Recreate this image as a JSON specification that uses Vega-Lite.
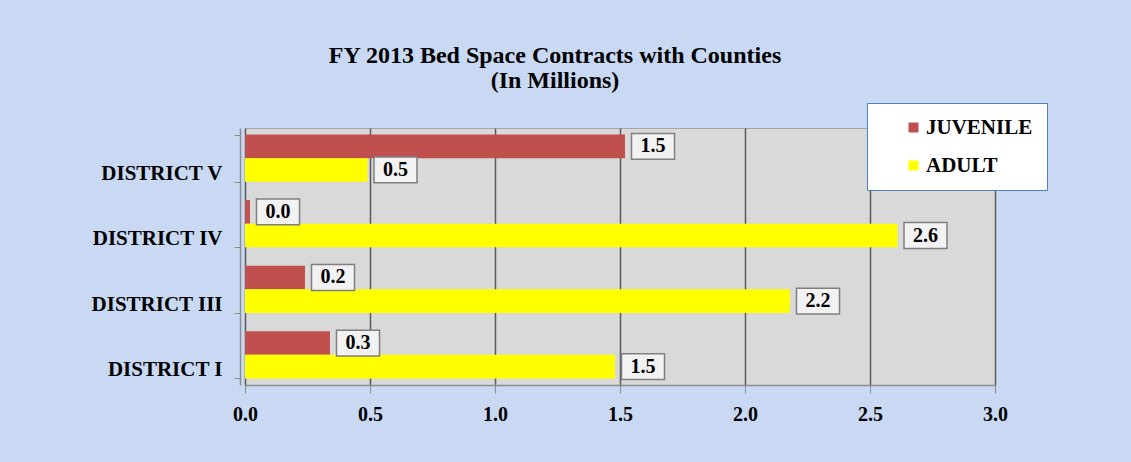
{
  "$schema": "https://vega.github.io/schema/vega-lite/v6.json",
  "width": 750,
  "height": 257,
  "autosize": {"type": "none"},
  "padding": {"left": 245, "top": 128, "right": 136, "bottom": 77},
  "background": "#c9d9f4",
  "title": {
    "text": ["FY 2013 Bed Space Contracts with Counties", "(In Millions)"],
    "anchor": "middle",
    "frame": "group",
    "dx": -65,
    "offset": 10,
    "font": "Liberation Serif",
    "fontSize": 24,
    "fontWeight": "bold",
    "color": "#000000",
    "lineHeight": 25
  },
  "data": {
    "values": [
      {"district": "DISTRICT V", "series": "JUVENILE", "value": 1.52},
      {"district": "DISTRICT V", "series": "ADULT", "value": 0.49},
      {"district": "DISTRICT IV", "series": "JUVENILE", "value": 0.02},
      {"district": "DISTRICT IV", "series": "ADULT", "value": 2.61},
      {"district": "DISTRICT III", "series": "JUVENILE", "value": 0.24},
      {"district": "DISTRICT III", "series": "ADULT", "value": 2.18},
      {"district": "DISTRICT I", "series": "JUVENILE", "value": 0.34},
      {"district": "DISTRICT I", "series": "ADULT", "value": 1.48}
    ]
  },
  "encoding": {
    "y": {
      "field": "district",
      "type": "nominal",
      "sort": ["DISTRICT V", "DISTRICT IV", "DISTRICT III", "DISTRICT I"],
      "scale": {"paddingInner": 0.28, "paddingOuter": 0.1},
      "axis": {
        "title": null,
        "domainColor": "#8c8c8c",
        "domainWidth": 1.5,
        "tickColor": "#8c8c8c",
        "tickBand": "extent",
        "tickSize": 6,
        "offset": 5,
        "labelFont": "Liberation Serif",
        "labelFontSize": 21,
        "labelFontWeight": "bold",
        "labelColor": "#000000",
        "labelPadding": 12,
        "labelOffset": 15,
        "labelLimit": 300
      }
    },
    "yOffset": {
      "field": "series",
      "type": "nominal",
      "sort": ["JUVENILE", "ADULT"],
      "scale": {"paddingInner": 0, "paddingOuter": 0}
    },
    "x": {
      "field": "value",
      "type": "quantitative",
      "scale": {"domain": [0, 3], "nice": false, "zero": true},
      "axis": {
        "title": null,
        "values": [0, 0.5, 1, 1.5, 2, 2.5, 3],
        "format": ".1f",
        "grid": true,
        "gridColor": "#5a5a5a",
        "gridWidth": 1.5,
        "domainColor": "#8c8c8c",
        "domainWidth": 1.5,
        "tickColor": "#8c8c8c",
        "tickSize": 8,
        "labelFlush": false,
        "labelFont": "Liberation Serif",
        "labelFontSize": 20,
        "labelFontWeight": "bold",
        "labelColor": "#000000",
        "labelPadding": 11
      }
    }
  },
  "layer": [
    {
      "mark": {"type": "bar", "stroke": null},
      "encoding": {
        "color": {
          "field": "series",
          "type": "nominal",
          "scale": {"domain": ["JUVENILE", "ADULT"], "range": ["#c0504d", "#ffff00"]},
          "legend": {
            "title": null,
            "orient": "none",
            "legendX": 622,
            "legendY": -25,
            "fillColor": "#ffffff",
            "strokeColor": "#4f81bd",
            "padding": 14,
            "rowPadding": 16,
            "symbolOffset": 22,
            "symbolType": "square",
            "symbolSize": 100,
            "symbolStrokeWidth": 0,
            "symbolOpacity": 1,
            "labelFont": "Liberation Serif",
            "labelFontSize": 21,
            "labelFontWeight": "bold",
            "labelColor": "#000000",
            "labelOffset": 2,
            "labelExpr": "datum.label + '\u00a0\u00a0\u00a0\u00a0\u00a0\u00a0\u00a0\u00a0'",
            "encode": {"legend": {"update": {"strokeWidth": {"value": 1.5}}}}
          }
        }
      }
    },
    {
      "mark": {
        "type": "point",
        "shape": "M -1 -0.6 L 1 -0.6 L 1 0.6 L -1 0.6 Z",
        "size": 1849,
        "filled": true,
        "fill": "#f2f2f2",
        "stroke": "#7f7f7f",
        "strokeWidth": 1.5,
        "opacity": 1,
        "xOffset": 28
      }
    },
    {
      "mark": {
        "type": "text",
        "xOffset": 28,
        "font": "Liberation Serif",
        "fontSize": 20,
        "fontWeight": "bold",
        "color": "#000000",
        "baseline": "middle",
        "align": "center"
      },
      "encoding": {
        "text": {"field": "value", "type": "quantitative", "format": ".1f"}
      }
    }
  ],
  "config": {
    "view": {"fill": "#d9d9d9", "stroke": "#a6a6a6"}
  }
}
